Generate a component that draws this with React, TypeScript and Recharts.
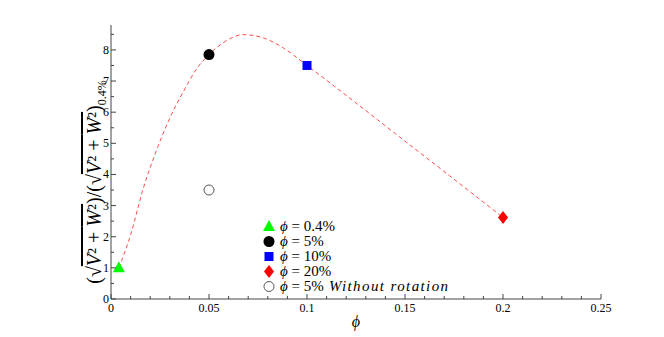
import React from 'react';
import { ComposedChart, Line, Scatter, XAxis, YAxis } from 'recharts';

// dashed fit curve
const curvePhi = [0.004, 0.01, 0.0165, 0.023, 0.03, 0.037, 0.044, 0.05, 0.057, 0.0675, 0.078, 0.088, 0.1, 0.15, 0.2];
const curveRatio = [1.0, 2.06, 3.56, 4.74, 5.81, 6.67, 7.42, 7.85, 8.22, 8.49, 8.38, 8.06, 7.5, 5.07, 2.62];

// measured points
const phi04 = [{ x: 0.004, y: 1.0 }];
const phi5 = [{ x: 0.05, y: 7.85 }];
const phi10 = [{ x: 0.1, y: 7.5 }];
const phi20 = [{ x: 0.2, y: 2.62 }];
const phi5NoRot = [{ x: 0.05, y: 3.5 }];

const legendLabels = ['0.4%', '5%', '10%', '20%', '5%'];

// ticks
const xTicks = [0, 0.01, 0.02, 0.03, 0.04, 0.05, 0.06, 0.07, 0.08, 0.09, 0.1, 0.11, 0.12, 0.13, 0.14, 0.15, 0.16, 0.17, 0.18, 0.19, 0.2, 0.21, 0.22, 0.23, 0.24, 0.25];
const xMajor = [0, 0.05, 0.1, 0.15, 0.2, 0.25];
const yTicks = [0, 0.5, 1, 1.5, 2, 2.5, 3, 3.5, 4, 4.5, 5, 5.5, 6, 6.5, 7, 7.5, 8, 8.5];
const yMajor = [0, 1, 2, 3, 4, 5, 6, 7, 8];

const curveData = curvePhi.map((x, i) => ({ x, y: curveRatio[i] }));

const FONT = "'Liberation Serif', serif";
const FRAME = '#444';
const PHI = 'ϕ';

const isMajor = (list: number[], v: number) => list.some((m) => Math.abs(m - v) < 1e-9);

const BottomTick = ({ x, y, payload }: any) => {
  const major = isMajor(xMajor, payload.value);
  return (
    <g>
      <line x1={x} y1={y} x2={x} y2={y - (major ? 5 : 3)} stroke={FRAME} />
      {major && (
        <text x={x} y={y + 13} textAnchor="middle" style={{ fontFamily: FONT }} fontSize={12} fill="#000">
          {String(payload.value)}
        </text>
      )}
    </g>
  );
};

const TopTick = ({ x, y, payload }: any) => {
  const major = isMajor(xMajor, payload.value);
  return <line x1={x} y1={y} x2={x} y2={y + (major ? 5 : 3)} stroke={FRAME} />;
};

const LeftTick = ({ x, y, payload }: any) => {
  const major = isMajor(yMajor, payload.value);
  return (
    <g>
      <line x1={x} y1={y} x2={x + (major ? 5 : 3)} y2={y} stroke={FRAME} />
      {major && (
        <text x={x - 2} y={y + 4} textAnchor="end" style={{ fontFamily: FONT }} fontSize={12} fill="#000">
          {String(payload.value)}
        </text>
      )}
    </g>
  );
};

const RightTick = ({ x, y, payload }: any) => {
  const major = isMajor(yMajor, payload.value);
  return <line x1={x} y1={y} x2={x - (major ? 5 : 3)} y2={y} stroke={FRAME} />;
};

const Triangle = ({ cx, cy }: any) => (
  <polygon points={`${cx},${cy - 6.5} ${cx - 6},${cy + 4.5} ${cx + 6},${cy + 4.5}`} fill="#00ff00" />
);
const Dot = ({ cx, cy }: any) => <circle cx={cx} cy={cy} r={5.5} fill="#000" />;
const Square = ({ cx, cy }: any) => <rect x={cx - 4.5} y={cy - 4.5} width={9} height={9} fill="#0000ff" />;
const Diamond = ({ cx, cy }: any) => (
  <polygon points={`${cx},${cy - 6.5} ${cx + 5},${cy} ${cx},${cy + 6.5} ${cx - 5},${cy}`} fill="#ff0000" />
);
const Ring = ({ cx, cy }: any) => <circle cx={cx} cy={cy} r={5} fill="#fff" stroke="#555" strokeWidth={1} />;

const markers = [Triangle, Dot, Square, Diamond, Ring];

const YTitle = () => {
  const cx = 93;
  const cy = 174;
  const sqrtPart = (
    <>
      <tspan>(√</tspan>
      <tspan style={{ textDecoration: 'overline' }}>
        <tspan fontStyle="italic">V</tspan>
        <tspan>² + </tspan>
        <tspan fontStyle="italic">W</tspan>
        <tspan>²</tspan>
      </tspan>
      <tspan>)</tspan>
    </>
  );
  return (
    <text
      x={cx}
      y={cy}
      transform={`rotate(-90, ${cx}, ${cy})`}
      textAnchor="middle"
      style={{ fontFamily: FONT }}
      fontSize={20}
      fill="#000"
    >
      {sqrtPart}
      <tspan>/</tspan>
      {sqrtPart}
      <tspan fontSize={12} dy={5}>0.4%</tspan>
    </text>
  );
};

const XTitle = ({ viewBox }: any) => (
  <text
    x={viewBox.x + viewBox.width / 2}
    y={viewBox.y + 28}
    textAnchor="middle"
    style={{ fontFamily: FONT }}
    fontStyle="italic"
    fontSize={16}
    fill="#000"
  >
    {PHI}
  </text>
);

const LegendBox = () => (
  <div
    style={{
      position: 'absolute',
      left: 254,
      top: 211,
      fontFamily: FONT,
      fontSize: 15,
      lineHeight: '15px',
      color: '#000',
    }}
  >
    {legendLabels.map((label, i) => {
      const M = markers[i];
      return (
        <div key={i} style={{ display: 'flex', alignItems: 'center', height: 15, whiteSpace: 'nowrap' }}>
          <svg width={14} height={15} style={{ overflow: 'visible' }}>
            <M cx={7} cy={7.5} />
          </svg>
          <span style={{ marginLeft: 4 }}>
            <i>{PHI}</i> = {label}
            {i === 4 && <i style={{ letterSpacing: 1.4 }}> Without rotation</i>}
          </span>
        </div>
      );
    })}
  </div>
);

export default function App() {
  return (
    <div style={{ position: 'relative', width: 648, height: 329 }}>
      <ComposedChart width={648} height={329} margin={{ top: 17, right: 55, bottom: 8, left: 43 }}>
        <XAxis
          dataKey="x"
          type="number"
          domain={[0, 0.25]}
          ticks={xTicks}
          interval={0}
          allowDataOverflow
          height={30}
          tickSize={0}
          tickMargin={0}
          tickLine={false}
          tick={<BottomTick />}
          axisLine={{ stroke: FRAME }}
          label={<XTitle />}
        />
        <XAxis
          xAxisId="top"
          orientation="top"
          dataKey="x"
          type="number"
          domain={[0, 0.25]}
          ticks={xTicks}
          interval={0}
          allowDataOverflow
          height={0}
          tickSize={0}
          tickMargin={0}
          tickLine={false}
          tick={<TopTick />}
          axisLine={{ stroke: FRAME }}
        />
        <YAxis
          type="number"
          domain={[0, 8.8]}
          ticks={yTicks}
          interval={0}
          allowDataOverflow
          width={60}
          tickSize={0}
          tickMargin={0}
          tickLine={false}
          tick={<LeftTick />}
          axisLine={{ stroke: FRAME }}
          label={<YTitle />}
        />
        <YAxis
          yAxisId="right"
          orientation="right"
          type="number"
          domain={[0, 8.8]}
          ticks={yTicks}
          interval={0}
          allowDataOverflow
          width={0}
          tickSize={0}
          tickMargin={0}
          tickLine={false}
          tick={<RightTick />}
          axisLine={{ stroke: FRAME }}
        />
        <Line
          data={curveData}
          dataKey="y"
          type="monotone"
          stroke="#ff4d4d"
          strokeWidth={1}
          strokeDasharray="4 3"
          dot={false}
          activeDot={false}
          isAnimationActive={false}
        />
        <Scatter data={phi04} dataKey="y" shape={<Triangle />} isAnimationActive={false} />
        <Scatter data={phi5} dataKey="y" shape={<Dot />} isAnimationActive={false} />
        <Scatter data={phi10} dataKey="y" shape={<Square />} isAnimationActive={false} />
        <Scatter data={phi20} dataKey="y" shape={<Diamond />} isAnimationActive={false} />
        <Scatter data={phi5NoRot} dataKey="y" shape={<Ring />} isAnimationActive={false} />
      </ComposedChart>
      <LegendBox />
    </div>
  );
}
